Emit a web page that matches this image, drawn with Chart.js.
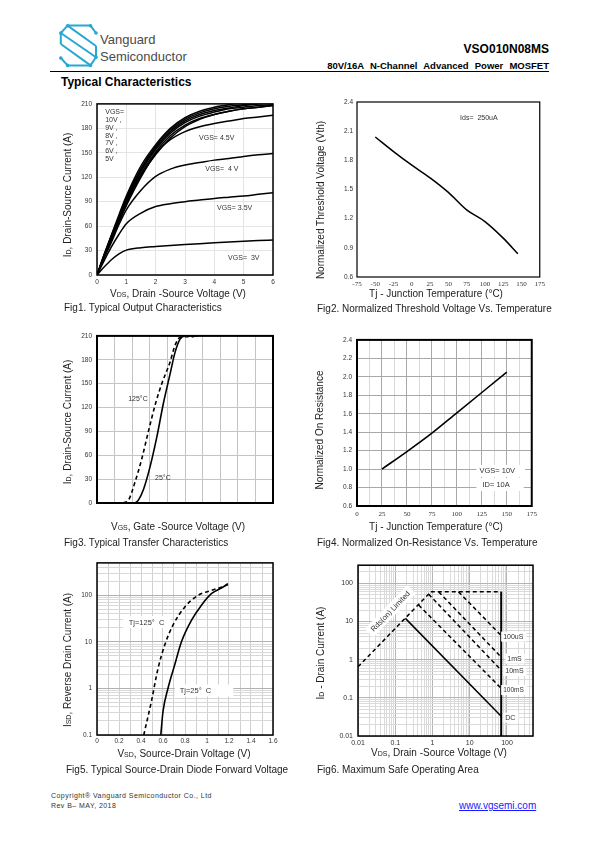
<!DOCTYPE html>
<html><head><meta charset="utf-8"><title>VSO010N08MS Typical Characteristics</title>
<script src="https://cdn.jsdelivr.net/npm/chart.js@4.4.1/dist/chart.umd.min.js"></script>
<style>
html,body{margin:0;padding:0}
body{width:595px;height:842px;position:relative;background:#fff;font-family:"Liberation Sans",Arial,sans-serif;color:#000;overflow:hidden}
.t{position:absolute;white-space:nowrap;line-height:1}
canvas{position:absolute}
.xt{position:absolute;transform:translate(-50%,-50%);white-space:nowrap;font-size:10px;line-height:1;color:#222}
.yt{position:absolute;transform:translate(-50%,-50%) rotate(-90deg);white-space:nowrap;font-size:10px;line-height:1;color:#222}
.sb{font-size:7px}
.cap{position:absolute;font-size:10px;line-height:1;color:#222;white-space:nowrap}
</style></head>
<body>
<svg class="t" style="left:59px;top:24px" width="40" height="46" viewBox="0 0 40 46">
 <g stroke="#27a8d3" stroke-width="2" fill="none" stroke-linejoin="round">
  <path d="M37,9 L31.5,1.6 L8.6,1.6 L1.8,9 L1.8,20"/>
  <path d="M1.8,9 L37,33.3"/>
  <path d="M8.6,1.6 L37,22"/>
  <path d="M1.8,20 L31.5,41.4"/>
  <path d="M37,22 L37,33.3 L31.5,41.4 L8.6,41.4 L1.8,34"/>
 </g>
 <g fill="#27a8d3">
  <circle cx="8.6" cy="1.8" r="1.8"/><circle cx="31.5" cy="1.8" r="1.8"/>
  <circle cx="1.8" cy="9" r="1.8"/><circle cx="37" cy="9" r="1.8"/>
  <circle cx="1.8" cy="34" r="1.8"/><circle cx="37" cy="33.3" r="1.8"/>
  <circle cx="8.6" cy="41.4" r="1.8"/><circle cx="31.5" cy="41.4" r="1.8"/>
 </g>
</svg>
<div class="t" style="left:100px;top:33px;font-size:13px;color:#4a4a4a">Vanguard</div>
<div class="t" style="left:100px;top:50px;font-size:13px;color:#4a4a4a">Semiconductor</div>
<div class="t" style="right:46px;top:43px;font-size:12px;font-weight:bold">VSO010N08MS</div>
<div class="t" style="right:46px;top:61px;font-size:9.5px;font-weight:bold;word-spacing:3.5px">80V/16A N-Channel Advanced Power MOSFET</div>
<div class="t" style="left:50px;top:71px;width:499px;height:1.3px;background:#000"></div>
<div class="t" style="left:61px;top:76px;font-size:12px;font-weight:bold">Typical Characteristics</div>

<canvas id="c1"></canvas><canvas id="c2"></canvas><canvas id="c3"></canvas>
<canvas id="c4"></canvas><canvas id="c5"></canvas><canvas id="c6"></canvas>

<div class="xt" style="left:178px;top:294px">V<span class="sb">DS</span>, Drain -Source Voltage (V)</div>
<div class="yt" style="left:68px;top:195px">I<span class="sb">D</span>, Drain-Source Current (A)</div>
<div class="cap" style="left:64px;top:303px">Fig1. Typical Output Characteristics</div>

<div class="xt" style="left:436px;top:294px">Tj - Junction Temperature (°C)</div>
<div class="yt" style="left:321px;top:200px">Normalized Threshold Voltage (Vth)</div>
<div class="cap" style="left:317px;top:304px">Fig2. Normalized Threshold Voltage Vs. Temperature</div>

<div class="xt" style="left:178px;top:527px">V<span class="sb">GS</span>, Gate -Source Voltage (V)</div>
<div class="yt" style="left:68px;top:422px">I<span class="sb">D</span>, Drain-Source Current (A)</div>
<div class="cap" style="left:64px;top:538px">Fig3. Typical Transfer Characteristics</div>

<div class="xt" style="left:436px;top:527px">Tj - Junction Temperature (°C)</div>
<div class="yt" style="left:320px;top:430px">Normalized On Resistance</div>
<div class="cap" style="left:317px;top:538px">Fig4. Normalized On-Resistance Vs. Temperature</div>

<div class="xt" style="left:184px;top:754px">V<span class="sb">SD</span>, Source-Drain Voltage (V)</div>
<div class="yt" style="left:68px;top:660px">I<span class="sb">SD</span>, Reverse Drain Current (A)</div>
<div class="cap" style="left:66px;top:765px">Fig5. Typical Source-Drain Diode Forward Voltage</div>

<div class="xt" style="left:439px;top:753px">V<span class="sb">DS</span>, Drain -Source Voltage (V)</div>
<div class="yt" style="left:321px;top:653px">I<span class="sb">D</span> - Drain Current (A)</div>
<div class="cap" style="left:317px;top:765px">Fig6. Maximum Safe Operating Area</div>

<div class="t" style="left:51px;top:792px;font-size:7px;letter-spacing:0.45px;color:#333">Copyright® Vanguard Semiconductor Co., Ltd</div>
<div class="t" style="left:51px;top:802px;font-size:7px;letter-spacing:0.45px;color:#333">Rev B– MAY, 2018</div>
<div class="t" style="left:459px;top:801px;font-size:10px;color:#1a1aff;text-decoration:underline">www.vgsemi.com</div>

<script>
// ---------- Fig1: Output characteristics ----------
const fig1Vds   = [0,0.25,0.5,0.75,1,1.5,2,2.5,3,3.5,4,4.5,5,5.5,6];
const fig1Id10V = [0,26,50,74,97,134,160,180,193,201,206,209,211,213,214];
const fig1Id9V  = [0,25,49,72,95,131,158,178,191,199,204,207,209,211,212];
const fig1Id8V  = [0,25,48,71,93,129,156,176,189,197,202,205,208,210,211];
const fig1Id7V  = [0,24,47,70,91,127,154,174,187,195,200,204,206,208,209];
const fig1Id6V  = [0,24,46,68,89,124,151,171,184,192,197,201,204,206,208];
const fig1Id5V  = [0,23,45,66,87,122,148,168,182,191,197,201,204,206,208];
const fig1Id45V = [0,23,44,65,85,120,149,166,176,182,186,189,192,194,196];
const fig1Id4V  = [0,21,41,62,80,104,121,130,135,138,141,143,145.5,147.5,149];
const fig1Id35V = [0,18,35,50,63,76,84,87.5,90,92,94,95.5,97,99,101];
const fig1Id3V  = [0,10,19,26,30.5,33.5,35,36.3,37.5,38.5,39.5,40.5,41.5,42.3,43];
const fig1XTicks = [0,1,2,3,4,5,6];
const fig1YTicks = [0,30,60,90,120,150,180,210];

// ---------- Fig2: Threshold voltage vs Tj ----------
const fig2Tj  = [-50,-25,0,25,50,75,100,125,145];
const fig2Vth = [2.04,1.89,1.75,1.62,1.47,1.29,1.17,1.0,0.84];
const fig2XTicks = [-75,-50,-25,0,25,50,75,100,125,150,175];
const fig2YTicks = [0.6,0.9,1.2,1.5,1.8,2.1,2.4];

// ---------- Fig3: Transfer characteristics ----------
const fig3Vgs125 = [1.5,1.8,2.17,2.55,2.92,3.3,3.68,4.15,4.43,4.72,5.2,5.5];
const fig3Id125  = [0,4,27,56,90,123,150,177,198,208,209,209];
const fig3Vgs25  = [2.17,2.36,2.64,3.02,3.4,3.77,4.15,4.43,4.72,5.0,5.75];
const fig3Id25   = [0,4,17,46,83,125,162,189,206,210,210];
const fig3XTicks = [0,1,2,3,4,5,6,7,8,9,10];
const fig3YTicks = [0,30,60,90,120,150,180,210];

// ---------- Fig4: On-resistance vs Tj ----------
const fig4Tj  = [25,50,75,100,125,150];
const fig4Rds = [1.0,1.19,1.39,1.61,1.83,2.05];
const fig4XTicks = [0,12.5,25,37.5,50,62.5,75,87.5,100,112.5,125,137.5,150,162.5,175];
const fig4XLabels = [0,25,50,75,100,125,150,175];
const fig4YTicks = [0.6,0.8,1.0,1.2,1.4,1.6,1.8,2.0,2.2,2.4];

// ---------- Fig5: Diode forward voltage ----------
const fig5Vsd25  = [0.58,0.6,0.645,0.706,0.767,0.858,0.948,1.04,1.13,1.19];
const fig5Isd25  = [0.1,0.32,1.0,3.2,10,29,61,109,144,178];
const fig5Vsd125 = [0.425,0.494,0.555,0.615,0.691,0.797,0.918,1.024,1.13,1.19];
const fig5Isd125 = [0.1,0.52,2.7,8.5,23,56,100,125,150,170];
const fig5XTicks = [0,0.1,0.2,0.3,0.4,0.5,0.6,0.7,0.8,0.9,1.0,1.1,1.2,1.3,1.4,1.5,1.6];
const fig5XLabels = ['0','0.2','0.4','0.6','0.8','1','1.2','1.4','1.6'];
const fig5YLabels = [0.1,1,10,100];

// ---------- Fig6: Safe operating area ----------
const fig6RdsV   = [0.01,0.9];  const fig6RdsI   = [0.65,60];
const fig6TopV   = [0.9,70];    const fig6TopI   = [60,60];
const fig6Us100V = [5,70];      const fig6Us100I = [60,4.3];
const fig6Ms1V   = [1.47,70];   const fig6Ms1I   = [60,1.17];
const fig6Ms10V  = [0.79,70];   const fig6Ms10I  = [52,0.53];
const fig6Ms100V = [0.425,70];  const fig6Ms100I = [27,0.178];
const fig6DcV    = [0.187,70];  const fig6DcI    = [12.1,0.033];
const fig6VertV  = [70,70];     const fig6VertI  = [60,0.01];
const fig6XLabels = [0.01,0.1,1,10,100];
const fig6YLabels = [0.01,0.1,1,10,100];

// ---------- helpers ----------
const SANS = '"Liberation Sans", Arial, sans-serif';
const SERIF = '"Liberation Serif", "Times New Roman", serif';
const pts = (xs, ys) => xs.map((x, i) => ({x, y: ys[i]}));
function logTicks(min, max){
  const out = [];
  for (let e = Math.floor(Math.log10(min)); e <= Math.ceil(Math.log10(max)); e++){
    for (let s = 1; s <= 9; s++){
      const v = +(s * Math.pow(10, e)).toPrecision(6);
      if (v >= min - 1e-12 && v <= max + 1e-9) out.push(v);
    }
  }
  return out;
}
const isDecade = v => Math.abs(Math.log10(v) - Math.round(Math.log10(v))) < 1e-6;
const near = (v, arr) => arr.some(a => Math.abs(a - v) < 1e-6);

function axis(o){
  return {
    type: o.type || 'linear', min: o.min, max: o.max,
    afterBuildTicks: s => { s.ticks = o.ticks.map(v => ({value: v})); },
    afterFit: s => { if (o.w !== undefined) s.width = o.w; if (o.h !== undefined) s.height = o.h; },
    ticks: {autoSkip: false, maxRotation: 0, minRotation: 0, padding: o.pad, color: '#333',
            display: o.showLabels !== false,
            font: {family: o.family || SANS, size: o.size || 6.5},
            callback: v => o.label(v)},
    grid: o.grid ? {display: true, drawTicks: false, lineWidth: 1,
            color: c => (c.tick ? o.grid(c.tick.value) : 'rgba(0,0,0,0)')}
          : {display: false, drawTicks: false},
    border: {display: false}
  };
}

const framePlugin = {
  id: 'frame',
  afterDraw(chart, args, opts){
    const a = chart.chartArea, ctx = chart.ctx;
    ctx.save(); ctx.strokeStyle = '#000'; ctx.lineWidth = opts.width || 1.5;
    ctx.strokeRect(a.left, a.top, a.right - a.left, a.bottom - a.top); ctx.restore();
  }
};
const notesPlugin = {
  id: 'notes',
  afterDatasetsDraw(chart, args, opts){
    const ctx = chart.ctx;
    (opts.items || []).forEach(n => {
      const x = chart.scales.x.getPixelForValue(n.x), y = chart.scales.y.getPixelForValue(n.y);
      ctx.save(); ctx.translate(x, y); if (n.rot) ctx.rotate(n.rot * Math.PI / 180);
      ctx.font = (n.size || 7) + 'px ' + SANS;
      ctx.textBaseline = 'middle'; ctx.textAlign = n.center ? 'center' : 'left';
      const w = ctx.measureText(n.text).width;
      if (n.box){
        const p = n.box; const x0 = n.center ? -w / 2 - p[0] : -p[0];
        ctx.fillStyle = '#fff'; ctx.fillRect(x0, -p[1], w + p[0] + p[2], p[1] + p[3]);
      }
      ctx.fillStyle = n.color || '#333'; ctx.fillText(n.text, 0, 0.5); ctx.restore();
    });
  }
};

function line(data, dashed, smooth, width){
  return {data, showLine: true, borderColor: '#000', borderWidth: width || 1.5,
          borderDash: dashed ? [4, 3] : [], pointRadius: 0,
          cubicInterpolationMode: smooth ? 'monotone' : 'default', tension: 0, fill: false};
}

function build(id, L, T, R, B, cfg){
  const padL = 40, padT = 8, padR = 8, padB = 22;
  const cv = document.getElementById(id);
  cv.style.left = (L - padL) + 'px'; cv.style.top = (T - padT) + 'px';
  cv.width = R - L + padL + padR; cv.height = B - T + padT + padB;
  cfg.x.h = padB; cfg.y.w = padL;
  new Chart(cv, {
    type: 'scatter',
    data: {datasets: cfg.datasets},
    options: {
      responsive: false, animation: false, devicePixelRatio: 1,
      layout: {padding: {top: padT, right: padR, left: 0, bottom: 0}},
      plugins: {legend: {display: false}, tooltip: {enabled: false},
                frame: {width: cfg.frame || 1.5}, notes: {items: cfg.notes || []}},
      scales: {x: axis(cfg.x), y: axis(cfg.y)}
    },
    plugins: [framePlugin, notesPlugin]
  });
}

// ---------- Fig1 ----------
build('c1', 97, 103, 273, 275, {
  datasets: [fig1Id10V, fig1Id9V, fig1Id8V, fig1Id7V, fig1Id6V, fig1Id5V, fig1Id45V, fig1Id4V, fig1Id35V, fig1Id3V]
     .map(ys => line(pts(fig1Vds, ys), false, true, 1.5)),
  x: {min: 0, max: 6, ticks: fig1XTicks, pad: 3, label: v => String(v), grid: () => '#e4e4e4'},
  y: {min: 0, max: 210, ticks: fig1YTicks, pad: 5, label: v => String(v), grid: () => '#e4e4e4'},
  notes: [
    {x: 0.28, y: 201, text: 'VGS='}, {x: 0.28, y: 190.6, text: '10V ,'}, {x: 0.28, y: 180.8, text: '9V ,'},
    {x: 0.28, y: 171.4, text: '8V ,'}, {x: 0.28, y: 162, text: '7V ,'}, {x: 0.28, y: 153, text: '6V ,'},
    {x: 0.28, y: 142.7, text: '5V'},
    {x: 3.48, y: 169, text: 'VGS= 4.5V'}, {x: 3.69, y: 130.5, text: 'VGS=  4 V'},
    {x: 4.09, y: 82.3, text: 'VGS= 3.5V'}, {x: 4.47, y: 21.2, text: 'VGS=  3V'}
  ]
});

// ---------- Fig2 ----------
build('c2', 357, 102, 540, 277, {
  datasets: [line(pts(fig2Tj, fig2Vth), false, true, 1.5)],
  frame: 1.2,
  x: {min: -75, max: 175, ticks: fig2XTicks, pad: 3, family: SERIF, size: 7, label: v => String(v)},
  y: {min: 0.6, max: 2.4, ticks: fig2YTicks, pad: 4, label: v => v.toFixed(1)},
  notes: [{x: 66, y: 2.24, text: 'Ids=  250uA'}]
});

// ---------- Fig3 ----------
build('c3', 97, 335, 273, 503, {
  datasets: [line(pts(fig3Vgs125, fig3Id125), true, true, 1.6), line(pts(fig3Vgs25, fig3Id25), false, true, 1.6)],
  frame: 2,
  x: {min: 0, max: 10, ticks: fig3XTicks, pad: 3, showLabels: false, label: v => '', grid: () => '#c4c4c4'},
  y: {min: 0, max: 210, ticks: fig3YTicks, pad: 5, label: v => String(v), grid: () => '#c4c4c4'},
  notes: [{x: 1.77, y: 131.7, text: '125°C'}, {x: 3.3, y: 31.6, text: '25°C'}]
});

// ---------- Fig4 ----------
build('c4', 357, 339, 533, 506, {
  datasets: [line(pts(fig4Tj, fig4Rds), false, true, 1.6)],
  frame: 2,
  x: {min: 0, max: 175, ticks: fig4XTicks, pad: 4, family: SERIF, size: 7,
      label: v => near(v, fig4XLabels) ? String(v) : '',
      grid: v => near(v, fig4XLabels) ? '#a8a8a8' : '#d8d8d8'},
  y: {min: 0.6, max: 2.4, ticks: fig4YTicks, pad: 5, label: v => v.toFixed(1), grid: () => '#a8a8a8'},
  notes: [{x: 122.6, y: 0.98, text: 'VGS= 10V', size: 7.5, box: [3, 6, 10, 6]},
          {x: 125.6, y: 0.838, text: 'ID= 10A', size: 7.5, box: [6, 6, 14, 7]}]
});

// ---------- Fig5 ----------
build('c5', 97, 562, 273, 735, {
  datasets: [line(pts(fig5Vsd125, fig5Isd125), true, true, 1.6), line(pts(fig5Vsd25, fig5Isd25), false, true, 1.6)],
  x: {min: 0, max: 1.6, ticks: fig5XTicks, pad: 2,
      label: v => { const s = String(+v.toFixed(1)); return fig5XLabels.includes(s) ? s : ''; },
      grid: () => '#d0d0d0'},
  y: {type: 'logarithmic', min: 0.1, max: 500, ticks: logTicks(0.1, 500), pad: 5,
      label: v => near(v, fig5YLabels) ? String(v) : '',
      grid: v => isDecade(v) ? '#b0b0b0' : '#d8d8d8'},
  notes: [{x: 0.288, y: 26.7, text: 'Tj=125°  C', size: 7.5, box: [6, 6, 6, 6]},
          {x: 0.752, y: 0.906, text: 'Tj=25°  C', size: 7.5, box: [5, 6, 22, 6]}]
});

// ---------- Fig6 ----------
build('c6', 358, 564, 533, 736, {
  datasets: [
    line(pts(fig6RdsV, fig6RdsI), true), line(pts(fig6TopV, fig6TopI), true),
    line(pts(fig6Us100V, fig6Us100I), true), line(pts(fig6Ms1V, fig6Ms1I), true),
    line(pts(fig6Ms10V, fig6Ms10I), true), line(pts(fig6Ms100V, fig6Ms100I), true),
    line(pts(fig6DcV, fig6DcI), false), line(pts(fig6VertV, fig6VertI), false, false, 2)
  ],
  x: {type: 'logarithmic', min: 0.01, max: 500, ticks: logTicks(0.01, 500), pad: 3, size: 7,
      label: v => near(v, fig6XLabels) ? String(v) : '',
      grid: v => isDecade(v) ? '#b4b4b4' : '#dadada'},
  y: {type: 'logarithmic', min: 0.01, max: 300, ticks: logTicks(0.01, 300), pad: 5, size: 7,
      label: v => near(v, fig6YLabels) ? String(v) : '',
      grid: v => isDecade(v) ? '#b4b4b4' : '#dadada'},
  notes: [
    {x: 79, y: 4.04, text: '100uS', size: 7, box: [2, 5, 3, 5]},
    {x: 102, y: 1.07, text: '1mS', size: 7, box: [2, 5, 3, 5]},
    {x: 90, y: 0.505, text: '10mS', size: 7, box: [2, 5, 3, 5]},
    {x: 79, y: 0.16, text: '100mS', size: 6.5, box: [2, 5, 3, 5]},
    {x: 90, y: 0.0304, text: 'DC', size: 7, box: [2, 5, 3, 5]},
    {x: 0.0736, y: 18.6, text: 'Rds(on) Limited', size: 7.5, rot: -46, center: true, box: [4, 6, 4, 6]}
  ]
});
</script>
</body></html>
